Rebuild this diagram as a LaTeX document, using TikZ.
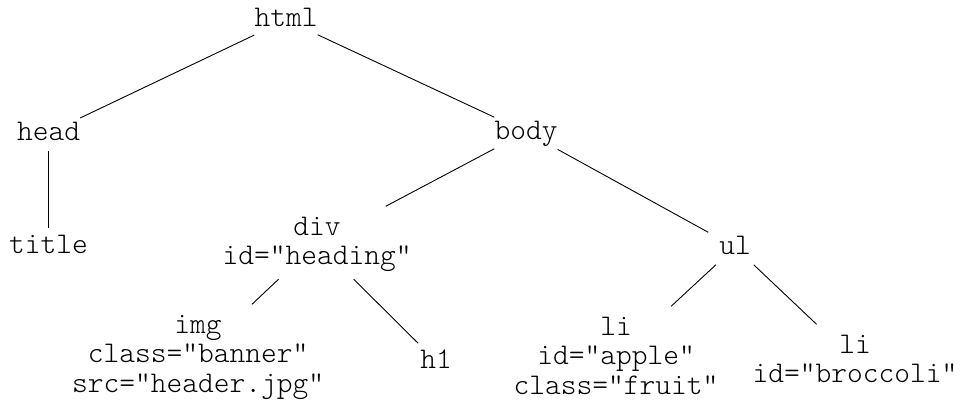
\documentclass[tikz,border=0pt]{standalone}
\usepackage{fontspec}
\newfontfamily\courfont{Latin Modern Mono Light}
\newcommand{\stack}[1]{\begin{tabular}[t]{@{}c@{}}#1\end{tabular}}
\begin{document}
\begin{tikzpicture}[x=1pt,y=-1pt,
  tag/.style={font=\courfont\fontsize{30pt}{29.5pt}\selectfont, anchor=base,
    inner xsep=0pt, minimum width=53pt, text height=19pt, text depth=5pt, inner ysep=5.6pt},
  twolines/.style={text depth=34.5pt, inner ysep=9.5pt},
  threelines/.style={text depth=64pt, inner ysep=9.5pt},
  edge/.style={draw=black, line width=0.9pt}]
\useasboundingbox (0,0) rectangle (960,404);
\node[tag] (html) at (286,27) {html};
\node[tag] (head) at (48.5,140) {head};
\node[tag] (body) at (526,139) {body};
\node[tag] (title) at (48.5,253) {title};
\node[tag,twolines] (div) at (317,235) {\stack{div\\id="heading"}};
\node[tag] (ul) at (735,254) {ul};
\node[tag,threelines] (img) at (198,333) {\stack{img\\class="banner"\\src="header.jpg"}};
\node[tag] (h1) at (436,368) {h1};
\node[tag,threelines] (li1) at (616,335) {\stack{li\\id="apple"\\class="fruit"}};
\node[tag,twolines] (li2) at (855,353) {\stack{li\\id="broccoli"}};
\draw[edge] (html) -- (head);
\draw[edge] (html) -- (body);
\draw[edge] (head) -- (title);
\draw[edge] (body) -- (div);
\draw[edge] (body) -- (ul);
\draw[edge] (div) -- (img);
\draw[edge] (div) -- (h1);
\draw[edge] (ul) -- (li1);
\draw[edge] (ul) -- (li2);
\end{tikzpicture}
\end{document}
